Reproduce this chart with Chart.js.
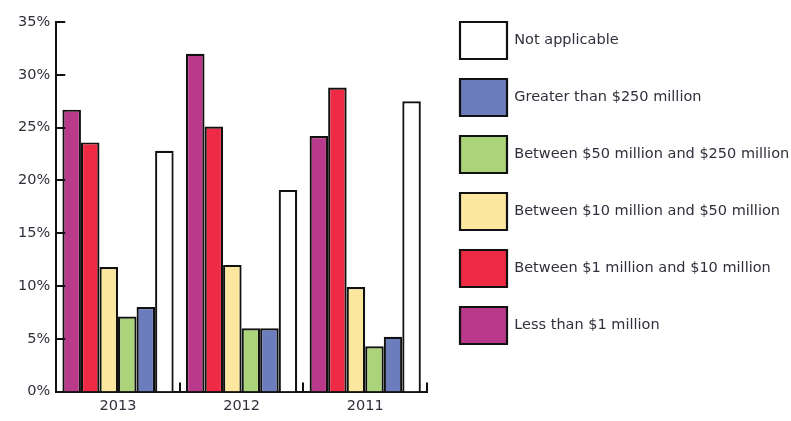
<!DOCTYPE html>
<html>
<head>
<meta charset="utf-8">
<script src="https://cdn.jsdelivr.net/npm/chart.js@4/dist/chart.umd.min.js"></script>
<style>
  html, body { margin: 0; padding: 0; background: #fff; }
  #wrap { width: 791px; height: 421px; }
</style>
</head>
<body>
<div id="wrap"><canvas id="chart" width="791" height="421"></canvas></div>
<script>
// Survey years shown on the category axis
const years = ['2013', '2012', '2011'];

// Share of respondents (%) per revenue band, one value per year
const lessThan1M    = [26.7, 32.0, 24.2];
const from1To10M    = [23.6, 25.1, 28.8];
const from10To50M   = [11.8, 12.0, 9.9];
const from50To250M  = [7.1, 6.0, 4.3];
const over250M      = [8.0, 6.0, 5.2];
const notApplicable = [22.8, 19.1, 27.5];

const seriesLabels = [
  'Less than $1 million',
  'Between $1 million and $10 million',
  'Between $10 million and $50 million',
  'Between $50 million and $250 million',
  'Greater than $250 million',
  'Not applicable'
];
const seriesColors = ['#b93a8b', '#ee2a44', '#fbe79d', '#abd37a', '#6c7dbe', '#ffffff'];

// Value axis: 0% to 35% in steps of 5
const yMin = 0, yMax = 35, yStep = 5;

const FONT = { family: '"DejaVu Sans", sans-serif', size: 14.5 };
const TEXT = '#30303c';
const INK = '#111111';

const seriesValues = [lessThan1M, from1To10M, from10To50M, from50To250M, over250M, notApplicable];
const datasets = seriesValues.map((vals, i) => ({
  label: seriesLabels[i],
  data: vals,
  backgroundColor: seriesColors[i],
  borderColor: INK,
  borderWidth: 2.2,
  inflateAmount: 0
}));

// Short tick marks drawn inward from both axis lines
const innerTicks = {
  id: 'innerTicks',
  afterDraw(chart) {
    const { ctx } = chart;
    const x = chart.scales.x, y = chart.scales.y;
    ctx.save();
    ctx.strokeStyle = INK;
    ctx.lineWidth = 2;
    ctx.beginPath();
    y.ticks.forEach(t => {
      if (t.value === yMin) return;
      const py = Math.round(y.getPixelForValue(t.value));
      ctx.moveTo(x.left, py);
      ctx.lineTo(x.left + 9, py);
    });
    for (let i = 0; i < years.length; i++) {
      const px = Math.round(x.getPixelForValue(i + 0.5));
      ctx.moveTo(px, y.bottom);
      ctx.lineTo(px, y.bottom - 9);
    }
    ctx.stroke();
    ctx.restore();
  }
};

new Chart(document.getElementById('chart'), {
  type: 'bar',
  data: { labels: years, datasets },
  options: {
    responsive: false,
    animation: false,
    devicePixelRatio: 1,
    datasets: {
      bar: { categoryPercentage: 0.9, barPercentage: 1.0 }
    },
    layout: { padding: { top: 2, left: 12, right: 0, bottom: 0 } },
    plugins: {
      legend: {
        position: 'right',
        align: 'start',
        reverse: true,
        maxWidth: 351,
        labels: {
          boxWidth: 47,
          boxHeight: 37,
          padding: 20,
          font: FONT,
          color: TEXT
        }
      },
      tooltip: { enabled: false }
    },
    scales: {
      x: {
        grid: { display: false, drawTicks: false },
        border: { color: INK, width: 2 },
        ticks: { padding: 6, font: FONT, color: TEXT }
      },
      y: {
        min: yMin,
        max: yMax,
        ticks: { stepSize: yStep, padding: 6, font: FONT, color: TEXT, callback: v => v + '%' },
        grid: { display: false, drawTicks: false },
        border: { color: INK, width: 2 },
        afterFit(scale) { scale.paddingTop = 22; }
      },
      spacer: {
        position: 'right',
        grid: { display: false, drawTicks: false },
        border: { display: false },
        ticks: { display: false },
        afterFit(scale) { scale.width = 13; }
      }
    }
  },
  plugins: [innerTicks]
});
</script>
</body>
</html>
